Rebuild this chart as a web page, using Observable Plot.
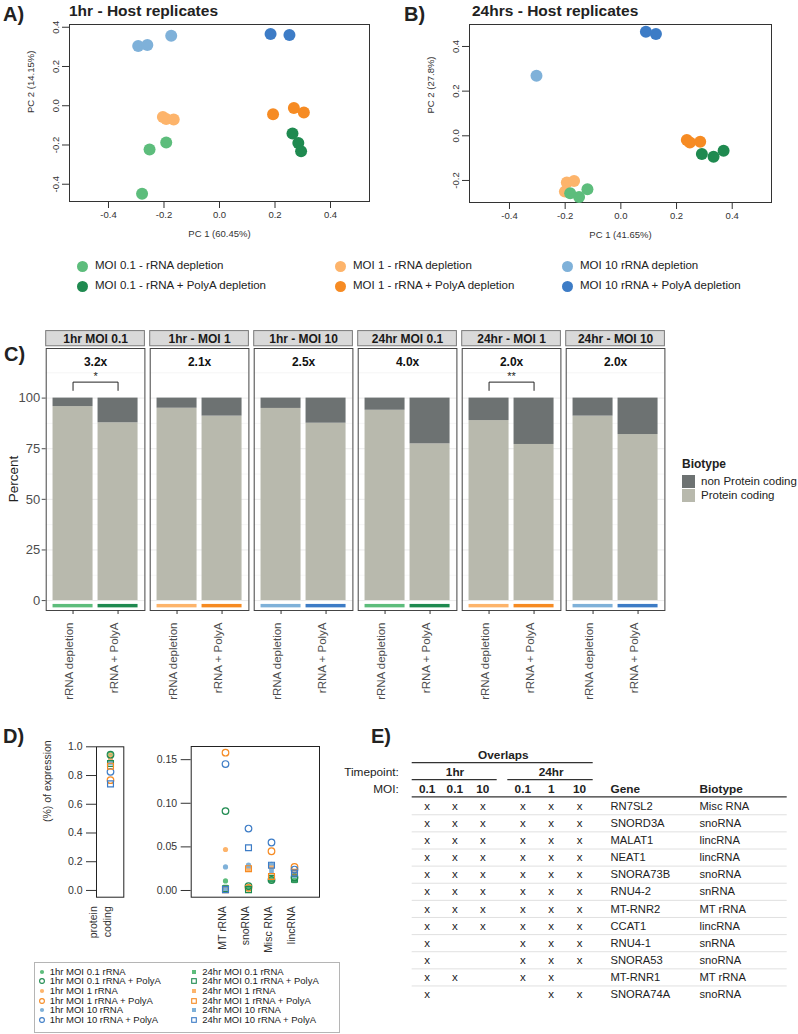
<!DOCTYPE html>
<html><head><meta charset="utf-8">
<script src="https://cdn.jsdelivr.net/npm/d3@7"></script>
<script src="https://cdn.jsdelivr.net/npm/@observablehq/plot@0.6"></script>
<style>
body{margin:0;background:#fff;}
#root{position:relative;width:798px;height:1034px;overflow:hidden;background:#fff;font-family:"Liberation Sans",Arial,Helvetica,sans-serif;color:#222;}
.wrap{position:absolute;}
.wrap svg{display:block;max-width:none !important;}
</style></head>
<body><div id="root"></div>
<script>
// ---------------- DATA ----------------
// Panels A/B : PCA groups
const groupNames = ["MOI 0.1 - rRNA depletion","MOI 0.1 - rRNA + PolyA depletion","MOI 1 - rRNA depletion","MOI 1 - rRNA + PolyA depletion","MOI 10 rRNA depletion","MOI 10 rRNA + PolyA depletion"];
const groupColors = ["#5dbd7c","#1f8a50","#fdb46b","#f68b23","#7fb1d9","#3d7cc6"];
// A) 1hr
const pca1hrPC1 = [-0.204,-0.192,-0.165, -0.252,-0.192,-0.279, 0.263,0.284,0.294, 0.193,0.268,0.304, -0.293,-0.260,-0.174, 0.184,0.252];
const pca1hrPC2 = [-0.057,-0.068,-0.070, -0.223,-0.187,-0.448, -0.142,-0.190,-0.232, -0.043,-0.012,-0.035, 0.305,0.310,0.357, 0.365,0.360];
const pca1hrGroup = [2,2,2, 0,0,0, 1,1,1, 3,3,3, 4,4,4, 5,5];
// B) 24hrs
const pca24PC1 = [-0.194,-0.168,-0.201, -0.182,-0.150,-0.120, 0.291,0.333,0.369, 0.237,0.248,0.285, -0.303, 0.090,0.126];
const pca24PC2 = [-0.209,-0.202,-0.250, -0.257,-0.274,-0.239, -0.082,-0.094,-0.067, -0.019,-0.030,-0.027, 0.269, 0.466,0.456];
const pca24Group = [2,2,2, 0,0,0, 1,1,1, 3,3,3, 4, 5,5];
const pcaTicks = [-0.4,-0.2,0,0.2,0.4];
const pca24YTicks = [-0.2,0,0.2,0.4];

// Panel C
const cFacets = ["1hr MOI 0.1","1hr - MOI 1","1hr - MOI 10","24hr MOI 0.1","24hr - MOI 1","24hr - MOI 10"];
const cFacetMOI = [0,1,2,0,1,2];
const cSamples = ["rRNA depletion","rRNA + PolyA"];
const cProteinDepletion = [95.8, 95.0, 94.9, 94.0, 88.9, 91.1];
const cProteinPolyA = [87.8, 91.1, 87.6, 77.4, 77.1, 82.0];
const cFold = ["3.2x","2.1x","2.5x","4.0x","2.0x","2.0x"];
const cSignifFacets = ["1hr MOI 0.1","24hr - MOI 1"];
const cSignifLabels = ["*","**"];
const biotypes = ["non Protein coding","Protein coding"];
const biotypeColors = ["#6d7272","#b8b9ad"];
const cYTicks = [0,25,50,75,100];

// Panel D
const dCategories = ["protein coding","MT rRNA","snoRNA","Misc RNA","lincRNA"];
const dCategoryLabels = ["protein\ncoding","MT rRNA","snoRNA","Misc RNA","lincRNA"];
const dSeries = ["1hr MOI 0.1 rRNA","1hr MOI 0.1 rRNA + PolyA","1hr MOI 1 rRNA","1hr MOI 1 rRNA + PolyA","1hr MOI 10 rRNA","1hr MOI 10 rRNA + PolyA",
                 "24hr MOI 0.1 rRNA","24hr MOI 0.1 rRNA + PolyA","24hr MOI 1 rRNA","24hr MOI 1 rRNA + PolyA","24hr MOI 10 rRNA","24hr MOI 10 rRNA + PolyA"];
const dSeriesColor = [0,1,2,3,4,5,0,1,2,3,4,5];
const dSeriesFilled = [true,false,true,false,true,false,true,false,true,false,true,false];
const dSeriesShape = ["circle","circle","circle","circle","circle","circle","square","square","square","square","square","square"];
// values per series: [protein coding, MT rRNA, snoRNA, Misc RNA, lincRNA]
const dValues = [
  [0.950, 0.011, 0.004, 0.013, 0.012],
  [0.945, 0.091, 0.005, 0.012, 0.015],
  [0.940, 0.047, 0.027, 0.028, 0.021],
  [0.768, 0.158, 0.003, 0.045, 0.027],
  [0.900, 0.027, 0.029, 0.030, 0.019],
  [0.826, 0.145, 0.071, 0.055, 0.024],
  [0.930, 0.004, 0.002, 0.011, 0.011],
  [0.884, 0.002, 0.001, 0.014, 0.013],
  [0.925, 0.003, 0.024, 0.026, 0.018],
  [0.865, 0.001, 0.025, 0.016, 0.021],
  [0.890, 0.002, 0.028, 0.022, 0.017],
  [0.742, 0.001, 0.049, 0.029, 0.020]
];
const dLeftTicks = [0,0.2,0.4,0.6,0.8,1.0];
const dRightTicks = [0,0.05,0.10,0.15];

// Panel E
const eTimepoints = ["1hr","24hr"];
const eMOI = ["0.1","0.1","10","0.1","1","10"];
const eGenes = ["RN7SL2","SNORD3A","MALAT1","NEAT1","SNORA73B","RNU4-2","MT-RNR2","CCAT1","RNU4-1","SNORA53","MT-RNR1","SNORA74A"];
const eBiotypes = ["Misc RNA","snoRNA","lincRNA","lincRNA","snoRNA","snRNA","MT rRNA","lincRNA","snRNA","snoRNA","MT rRNA","snoRNA"];
const eOverlap = [
  [1,1,1,1,1,1],[1,1,1,1,1,1],[1,1,1,1,1,1],[1,1,1,1,1,1],
  [1,1,1,1,1,1],[1,1,1,1,1,1],[1,1,1,1,1,1],[1,1,1,1,1,1],
  [1,0,0,1,1,1],[1,0,0,1,1,1],[1,1,0,1,1,0],[1,0,0,0,1,1]
];

// ---------------- LAYOUT HELPERS ----------------
const FONT = '"Liberation Sans", Arial, Helvetica, sans-serif';
const root = document.getElementById("root");
function mount(svg, left, top) {
  const d = document.createElement("div");
  d.className = "wrap";
  d.style.left = left + "px"; d.style.top = top + "px";
  d.appendChild(svg); root.appendChild(d); return d;
}
function label(txt, x, y, o = {}) {
  const {size = 12, weight = "normal", anchor = "start", color = "#222", rotate = 0} = o;
  const d = document.createElement("div");
  d.textContent = txt;
  d.style.cssText = `position:absolute;left:${x}px;top:${y}px;font-size:${size}px;font-weight:${weight};color:${color};white-space:nowrap;line-height:1;font-family:${FONT};`;
  const tx = rotate ? "-50%" : anchor === "middle" ? "-50%" : anchor === "end" ? "-100%" : "0";
  d.style.transform = `translate(${tx},-50%)` + (rotate ? ` rotate(${rotate}deg)` : "");
  root.appendChild(d); return d;
}
const baseStyle = {fontFamily: FONT, fontSize: "10px", color: "#333", background: "transparent", overflow: "visible"};

// ---------------- PANELS A & B ----------------
function pcaPlot({pc1, pc2, grp, xDomain, yDomain, yTicks, width, height, ml, mr, mt, mb, xLabel, yLabel}) {
  const pts = pc1.map((x, i) => ({x, y: pc2[i], color: groupColors[grp[i]]}));
  return Plot.plot({
    width, height, marginLeft: ml, marginRight: mr, marginTop: mt, marginBottom: mb,
    style: baseStyle,
    x: {domain: xDomain},
    y: {domain: yDomain},
    marks: [
      Plot.frame({stroke: "#333"}),
      Plot.axisX({ticks: pcaTicks, tickSize: 7, tickPadding: 3, tickFormat: d => d.toFixed(1), label: null, fontSize: 9.5}),
      Plot.axisY({ticks: yTicks, tickSize: 7, tickFormat: () => "", label: null}),
      Plot.text(yTicks, {y: d => d, text: d => d.toFixed(1), frameAnchor: "left", dx: -11, rotate: -90, textAnchor: "middle", lineAnchor: "bottom", fontSize: 9.5}),
      Plot.text([xLabel], {frameAnchor: "bottom", dy: 35, fontSize: 9.5}),
      Plot.text([yLabel], {frameAnchor: "left", dx: -39, rotate: -90, fontSize: 9.5}),
      Plot.dot(pts, {x: "x", y: "y", fill: "color", r: 6})
    ]
  });
}
mount(pcaPlot({pc1: pca1hrPC1, pc2: pca1hrPC2, grp: pca1hrGroup, xDomain: [-0.5405, 0.5405], yDomain: [-0.488, 0.414], yTicks: pcaTicks,
  width: 400, height: 250, ml: 69, mr: 31, mt: 24, mb: 49, xLabel: "PC 1 (60.45%)", yLabel: "PC 2 (14.15%)"}), 0, 0);
mount(pcaPlot({pc1: pca24PC1, pc2: pca24PC2, grp: pca24Group, xDomain: [-0.5436, 0.5411], yDomain: [-0.2987, 0.4984], yTicks: pca24YTicks,
  width: 398, height: 250, ml: 69, mr: 27, mt: 24, mb: 48, xLabel: "PC 1 (41.65%)", yLabel: "PC 2 (27.8%)"}), 400, 0);

label("A)", 3, 14, {size: 20, weight: "bold"});
label("1hr - Host replicates", 69, 11, {size: 15.5, weight: "bold"});
label("B)", 404, 14, {size: 20, weight: "bold"});
label("24hrs - Host replicates", 472, 11, {size: 15.5, weight: "bold"});

// legend A/B
const legCols = [82, 340, 567], legRows = [266, 286];
groupNames.forEach((name, i) => {
  const cx = legCols[Math.floor(i / 2)], cy = legRows[i % 2];
  const c = document.createElement("div");
  c.style.cssText = `position:absolute;left:${cx - 5.5}px;top:${cy - 5.5}px;width:11px;height:11px;border-radius:50%;background:${groupColors[i]};`;
  root.appendChild(c);
  label(name, cx + 13, cy, {size: 11.5});
});

// ---------------- PANEL C ----------------
const cBars = [], cStrips = [], cSampleRows = [];
cFacets.forEach((f, i) => {
  const p = [cProteinDepletion[i], cProteinPolyA[i]];
  cSamples.forEach((s, j) => {
    cBars.push({facet: f, sample: s, biotype: biotypes[1], y1: 0, y2: p[j]});
    cBars.push({facet: f, sample: s, biotype: biotypes[0], y1: p[j], y2: 100});
    cStrips.push({facet: f, sample: s, color: groupColors[2 * cFacetMOI[i] + j]});
    cSampleRows.push({facet: f, sample: s});
  });
});
const cFoldRows = cFacets.map((f, i) => ({facet: f, fold: cFold[i]}));
const cStarRows = cSignifFacets.map((f, i) => ({facet: f, label: cSignifLabels[i]}));
const cBracket = [];
cSignifFacets.forEach(f => {
  cBracket.push({facet: f, sample: cSamples[0], y: 103.8});
  cBracket.push({facet: f, sample: cSamples[0], y: 107.9});
  cBracket.push({facet: f, sample: cSamples[1], y: 107.9});
  cBracket.push({facet: f, sample: cSamples[1], y: 103.8});
});
const cStripTitles = cFacets.map(f => ({facet: f}));

const plotC = Plot.plot({
  width: 680, height: 390, marginLeft: 45.7, marginRight: 15.6, marginTop: 28, marginBottom: 100,
  style: baseStyle,
  fx: {domain: cFacets, paddingInner: 0.051, paddingOuter: 0, round: false, axis: null, label: null},
  x: {domain: cSamples, paddingInner: 0.111, paddingOuter: 0.152, round: false, label: null},
  y: {domain: [-4.9, 124.5], label: null},
  marks: [
    Plot.ruleY([12.5, 37.5, 62.5, 87.5, 112.5], {stroke: "#f0f0f0", strokeWidth: 0.6}),
    Plot.ruleY(cYTicks, {stroke: "#ebebeb", strokeWidth: 1}),
    Plot.barY(cBars, {fx: "facet", x: "sample", y1: "y1", y2: "y2", fill: d => biotypeColors[biotypes.indexOf(d.biotype)]}),
    Plot.barY(cStrips, {fx: "facet", x: "sample", y1: -1.9, y2: -3.6, fill: "color"}),
    Plot.frame({stroke: "#444"}),
    Plot.rect(cStripTitles, {fx: "facet", y1: 125.6, y2: 133.1, fill: "#d9d9d9", stroke: "#7a7a7a"}),
    Plot.text(cStripTitles, {fx: "facet", y: 129.35, text: "facet", fontWeight: "bold", fontSize: 12, fill: "#1a1a1a"}),
    Plot.text(cFoldRows, {fx: "facet", y: 117.7, text: "fold", fontWeight: "bold", fontSize: 12, fill: "#111"}),
    Plot.line(cBracket, {fx: "facet", x: "sample", y: "y", z: "facet", stroke: "#222", strokeWidth: 1}),
    Plot.text(cStarRows, {fx: "facet", y: 110.9, text: "label", fontSize: 11, fill: "#222"}),
    Plot.axisY({ticks: cYTicks, tickSize: 4, tickPadding: 2, fontSize: 13, color: "#4d4d4d", label: null}),
    Plot.axisX({tickSize: 4, tickFormat: () => "", label: null, stroke: "#333"}),
    Plot.text(cSampleRows, {fx: "facet", x: "sample", text: "sample", frameAnchor: "bottom", dy: 12, rotate: -90, textAnchor: "end", fontSize: 11.5, fill: "#4d4d4d"})
  ]
});
mount(plotC, 0, 320);
label("C)", 4, 354, {size: 20, weight: "bold"});
label("Percent", 14, 479, {size: 13.5, color: "#222", rotate: -90});
// Biotype legend
label("Biotype", 682, 464, {size: 12, weight: "bold"});
biotypes.forEach((b, i) => {
  const s = document.createElement("div");
  s.style.cssText = `position:absolute;left:682px;top:${475 + i * 14}px;width:13px;height:13px;background:${biotypeColors[i]};`;
  root.appendChild(s);
  label(b, 701, 482 + i * 14, {size: 11.5});
});

// ---------------- PANEL D ----------------
const dRows = [];
dSeries.forEach((s, i) => dCategories.forEach((c, j) => dRows.push({
  series: s, cat: c, v: dValues[i][j], color: groupColors[dSeriesColor[i]], filled: dSeriesFilled[i], shape: dSeriesShape[i]
})));
function dMarks(rows) {
  return [
    Plot.dot(rows.filter(d => d.filled), {x: "cat", y: "v", symbol: "shape", fill: "color", stroke: "none", r: 2.6}),
    Plot.dot(rows.filter(d => !d.filled), {x: "cat", y: "v", symbol: "shape", fill: "none", stroke: "color", strokeWidth: 1.2, r: 3.3})
  ];
}
const plotDLeft = Plot.plot({
  width: 140, height: 230, marginLeft: 96, marginRight: 16.7, marginTop: 16.3, marginBottom: 63.3,
  style: baseStyle,
  x: {type: "point", domain: [dCategories[0]], range: [109.7, 109.7], axis: null},
  y: {domain: [-0.047, 1.0], label: null},
  marks: [
    Plot.frame({stroke: "#222"}),
    Plot.axisY({ticks: dLeftTicks, tickSize: 10, tickPadding: 4, tickFormat: d => d.toFixed(1), fontSize: 10.5, label: null}),
    Plot.text([0], {x: () => dCategories[0], text: () => dCategoryLabels[0], frameAnchor: "bottom", dy: 9, rotate: -90, textAnchor: "end", fontSize: 10.5, lineHeight: 1.25}),
    Plot.text(["(%) of expression"], {frameAnchor: "left", dx: -49, rotate: -90, fontSize: 10.5}),
    ...dMarks(dRows.filter(d => d.cat === dCategories[0]))
  ]
});
mount(plotDLeft, 0, 730);
const dRightCats = dCategories.slice(1);
const plotDRight = Plot.plot({
  width: 180, height: 230, marginLeft: 40.7, marginRight: 11, marginTop: 16, marginBottom: 63.3,
  style: baseStyle,
  x: {type: "point", domain: dRightCats, range: [213.3 - 150, 305.3 - 150], axis: null},
  y: {domain: [-0.0077, 0.1651], label: null},
  marks: [
    Plot.frame({stroke: "#222"}),
    Plot.axisY({ticks: dRightTicks, tickSize: 10, tickPadding: 4, tickFormat: d => d.toFixed(2), fontSize: 10.5, label: null}),
    Plot.text(dRightCats, {x: d => d, text: (d, i) => dCategoryLabels[i + 1], frameAnchor: "bottom", dy: 9, rotate: -90, textAnchor: "end", fontSize: 10.5}),
    ...dMarks(dRows.filter(d => d.cat !== dCategories[0]))
  ]
});
mount(plotDRight, 150, 730);
label("D)", 3, 736, {size: 20, weight: "bold"});
// D legend
{
  const box = document.createElement("div");
  box.style.cssText = "position:absolute;left:34px;top:962px;width:304px;height:69px;border:1px solid #b5b5b5;";
  root.appendChild(box);
  dSeries.forEach((s, i) => {
    const col = i < 6 ? 0 : 1, row = i % 6;
    const sx = col ? 194.3 : 41.7, sy = 971.7 + row * 9.65;
    const col_ = groupColors[dSeriesColor[i]];
    const ns = "http://www.w3.org/2000/svg";
    const svg = document.createElementNS(ns, "svg");
    svg.setAttribute("width", 8); svg.setAttribute("height", 8);
    svg.style.cssText = `position:absolute;left:${sx - 4}px;top:${sy - 4}px;overflow:visible;`;
    let el;
    if (dSeriesShape[i] === "circle") {
      el = document.createElementNS(ns, "circle");
      el.setAttribute("cx", 4); el.setAttribute("cy", 4); el.setAttribute("r", dSeriesFilled[i] ? 2.1 : 2.4);
    } else {
      el = document.createElementNS(ns, "rect");
      const a = dSeriesFilled[i] ? 4 : 4.6;
      el.setAttribute("x", 4 - a / 2); el.setAttribute("y", 4 - a / 2); el.setAttribute("width", a); el.setAttribute("height", a);
    }
    if (dSeriesFilled[i]) { el.setAttribute("fill", col_); }
    else { el.setAttribute("fill", "none"); el.setAttribute("stroke", col_); el.setAttribute("stroke-width", 1.1); }
    svg.appendChild(el); root.appendChild(svg);
    label(s, sx + 8, sy, {size: 9.5});
  });
}

// ---------------- PANEL E ----------------
const eColX = [426.7, 454.3, 482.3, 522.3, 550.7, 579];
const eGeneX = 610, eBiotypeX = 699, eLineLeft = 411.7, eLineRight = 786.7;
const eCells = [];
eOverlap.forEach((r, i) => r.forEach((v, j) => { if (v) eCells.push({row: i, col: j}); }));
const eMid = (eColX[0] + eColX[5]) / 2;
const plotE = Plot.plot({
  width: 418, height: 300, marginLeft: 0, marginRight: 0, marginTop: 0, marginBottom: 0,
  style: {...baseStyle, color: "#222"},
  x: {domain: [380, 798], axis: null},
  y: {domain: [0, 11], range: [75.7, 75.7 + 11 * 17.12], axis: null},
  marks: [
    Plot.ruleY(d3.range(0.5, 11, 1), {x1: eLineLeft, x2: eLineRight, stroke: "#dcdcdc", strokeWidth: 0.9}),
    Plot.ruleY([-0.55], {x1: eLineLeft, x2: eLineRight, stroke: "#333", strokeWidth: 1.3}),
    Plot.ruleY([-2.55], {x1: eLineLeft, x2: eColX[5] + 13.7, stroke: "#333", strokeWidth: 1.3}),
    Plot.ruleY([-1.55], {x1: eLineLeft, x2: eColX[2] + 14.4, stroke: "#333", strokeWidth: 1.3}),
    Plot.ruleY([-1.55], {x1: eColX[3] - 15, x2: eColX[5] + 13.7, stroke: "#333", strokeWidth: 1.3}),
    Plot.text(["Overlaps"], {x: eMid, y: -3, fontWeight: "bold", fontSize: 11.8}),
    Plot.text(["Timepoint:"], {x: 398.3, y: -2, textAnchor: "end", fontSize: 11.8}),
    Plot.text(["MOI:"], {x: 398.3, y: -1, textAnchor: "end", fontSize: 11.8}),
    Plot.text(eTimepoints, {x: (d, i) => i === 0 ? (eColX[0] + eColX[2]) / 2 : (eColX[3] + eColX[5]) / 2, y: -2, fontWeight: "bold", fontSize: 11.8}),
    Plot.text(eMOI, {x: (d, i) => eColX[i], y: -1, fontWeight: "bold", fontSize: 11.8}),
    Plot.text(["Gene"], {x: eGeneX, y: -1, textAnchor: "start", fontWeight: "bold", fontSize: 11.8}),
    Plot.text(["Biotype"], {x: eBiotypeX, y: -1, textAnchor: "start", fontWeight: "bold", fontSize: 11.8}),
    Plot.text(eCells, {x: d => eColX[d.col], y: "row", text: () => "x", fontSize: 11.5}),
    Plot.text(eGenes, {x: eGeneX, y: (d, i) => i, text: d => d, textAnchor: "start", fontSize: 11.2}),
    Plot.text(eBiotypes, {x: eBiotypeX, y: (d, i) => i, text: d => d, textAnchor: "start", fontSize: 11.2})
  ]
});
mount(plotE, 380, 730);
label("E)", 371, 736, {size: 20, weight: "bold"});
</script>
</body></html>
